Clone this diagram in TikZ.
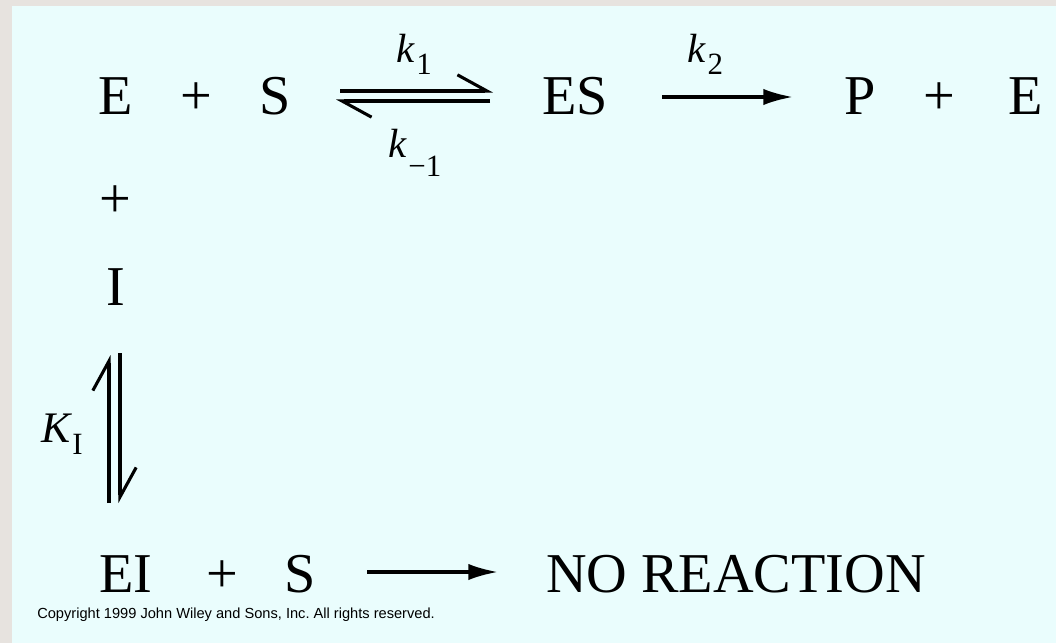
\documentclass[tikz,border=0pt]{standalone}
\usepackage{fontspec}
\setmainfont{Liberation Serif}
\newfontfamily\copyfont{Liberation Sans}
\usepackage{tikz}
\usetikzlibrary{arrows.meta}
\definecolor{bgcyan}{RGB}{234,253,253}
\definecolor{framegrey}{RGB}{231,227,223}
\newcommand{\ratesub}[2]{\hspace{1.5pt}\raisebox{#1}{\upshape\fontsize{22}{26}\selectfont #2}}
\tikzset{
  species/.style={anchor=base, inner sep=0pt, font=\fontsize{40}{48}\selectfont},
  rate/.style={anchor=base west, inner sep=0pt, font=\fontsize{29}{32}\selectfont\itshape},
  harp/.style={line width=2.2pt, -{Straight Barb[harpoon, length=21pt, width=23pt]}},
  react/.style={line width=2.2pt, -{Latex[length=21pt, width=11.5pt]}}
}

\begin{document}
\begin{tikzpicture}[x=0.025cm, y=-0.025cm]
\useasboundingbox (0,0) rectangle (1056,643);
\fill[framegrey] (0,0) rectangle (1056,643);
\fill[bgcyan] (12,6) rectangle (1056,643);

% top row
\node[species] (E) at (116,115) {E};
\node[species] (plusA) at (196,115) {+};
\node[species] (S) at (275,115) {S};
\node[species] (ES) at (575,115) {ES};
\node[species] (P) at (860,115) {P};
\node[species] (plusB) at (939,115) {+};
\node[species] (Eb) at (1026,115) {E};

% inhibitor column
\node[species] (plusC) at (115,217) {+};
\node[species] (I) at (116,305) {I};

% bottom row
\node[species] (EI) at (126,592) {EI};
\node[species] (plusD) at (222,592) {+};
\node[species] (Sb) at (300,592) {S};
\node[species] (NR) at (736,592) {NO REACTION};

% rate constants
\node[rate] (k1) at (396,63) {k\ratesub{-8.5pt}{1}};
\node[rate] (km1) at (388,157) {k\ratesub{-14pt}{−1}};
\node[rate] (k2) at (687,63) {k\ratesub{-8.5pt}{2}};
\node[rate] (KI) at (41,442) {\fontsize{31}{34}\selectfont K\ratesub{-9pt}{I}};

% arrow ends
\coordinate (fwdA) at (340,91);
\coordinate (fwdB) at (493,91);
\coordinate (revA) at (490,101);
\coordinate (revB) at (336,101);
\coordinate (catA) at (662,97);
\coordinate (catB) at (793,97);
\coordinate (upA) at (109,503);
\coordinate (upB) at (109,355);
\coordinate (dnA) at (120,353);
\coordinate (dnB) at (120,503);
\coordinate (noA) at (367,572);
\coordinate (noB) at (498,572);

\draw[harp] (fwdA) -- (fwdB);
\draw[harp] (revA) -- (revB);
\draw[react] (catA) -- (catB);
\draw[harp] (upA) -- (upB);
\draw[harp] (dnA) -- (dnB);
\draw[react] (noA) -- (noB);

\node[anchor=base west, inner sep=0pt, font=\copyfont\fontsize{10.4}{12}\selectfont] (copy) at (37,618) {Copyright 1999 John Wiley and Sons, Inc.\ All rights reserved.};
\end{tikzpicture}
\end{document}
